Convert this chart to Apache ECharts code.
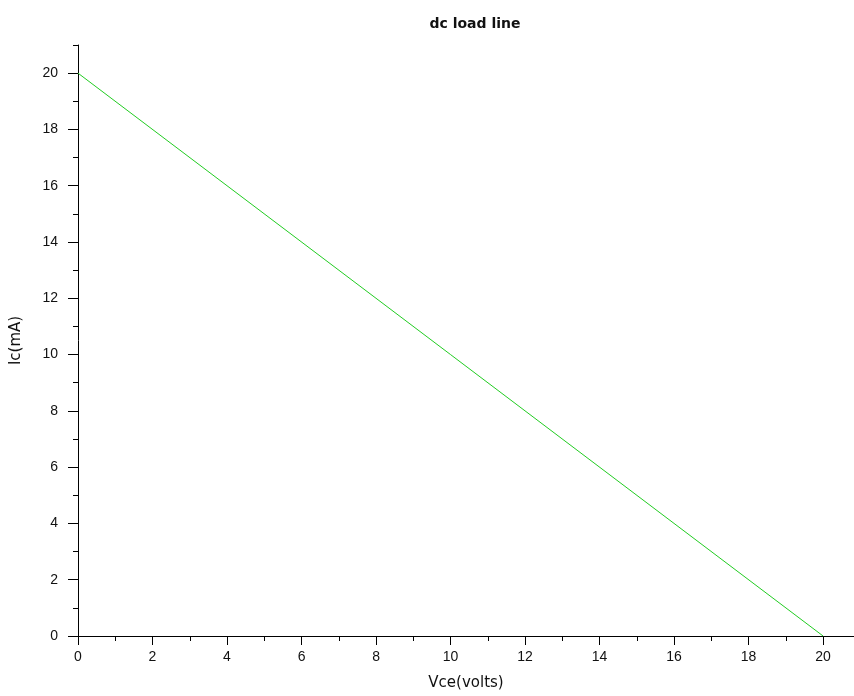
<!DOCTYPE html>
<html>
<head>
<meta charset="utf-8">
<script src="https://cdn.jsdelivr.net/npm/echarts@6/dist/echarts.min.js"></script>
<style>html,body{margin:0;padding:0;background:#fff;}#c{width:854px;height:696px;}</style>
</head>
<body>
<div id="c"></div>
<script>
var vce = [0, 20];
var ic = [20, 0];
var xMajor = [0, 2, 4, 6, 8, 10, 12, 14, 16, 18, 20];
var xMinor = [1, 3, 5, 7, 9, 11, 13, 15, 17, 19];
var yMajor = [0, 2, 4, 6, 8, 10, 12, 14, 16, 18, 20];
var yMinor = [1, 3, 5, 7, 9, 11, 13, 15, 17, 19, 21];
var xMax = 20.83;
var yMax = 21;

var chart = echarts.init(document.getElementById('c'));
var font = 'Liberation Sans, Arial, sans-serif';
var nameFont = 'DejaVu Sans, sans-serif';
function labelAxis(vals, pos, isX, max) {
  return {
    type: 'value', min: 0, max: max, position: pos,
    axisLine: {show: true, onZero: false, lineStyle: {color: '#000', width: 1}},
    axisTick: {show: false},
    axisLabel: {show: true, customValues: vals, color: '#111', fontSize: 14, fontFamily: font, margin: isX ? 14 : 20},
    splitLine: {show: false}
  };
}
function tickAxis(vals, pos, max, len) {
  return {
    type: 'value', min: 0, max: max, position: pos,
    axisLine: {show: false, onZero: false},
    axisTick: {show: true, inside: false, length: len, customValues: vals, lineStyle: {color: '#000', width: 1}},
    axisLabel: {show: false},
    splitLine: {show: false}
  };
}
var xa = labelAxis(xMajor, 'bottom', true, xMax);
xa.name = 'Vce(volts)'; xa.nameLocation = 'middle'; xa.nameGap = 40;
xa.nameTextStyle = {color: '#111', fontSize: 15, fontFamily: nameFont};
var ya = labelAxis(yMajor, 'left', false, yMax);
ya.name = 'Ic(mA)'; ya.nameLocation = 'middle'; ya.nameGap = 54;
ya.nameTextStyle = {color: '#111', fontSize: 15, fontFamily: nameFont};

chart.setOption({
  backgroundColor: '#fff',
  animation: false,
  title: {
    text: 'dc load line', left: 470, top: 12, textAlign: 'center',
    textStyle: {color: '#111', fontSize: 14, fontWeight: 'bold', fontFamily: 'DejaVu Sans, sans-serif'}
  },
  grid: {left: 78, right: 0, top: 45, bottom: 59, containLabel: false},
  xAxis: [xa, tickAxis(xMajor, 'bottom', xMax, 9), tickAxis(xMinor, 'bottom', xMax, 5)],
  yAxis: [ya, tickAxis(yMajor, 'left', yMax, 10), tickAxis(yMinor, 'left', yMax, 5)],
  series: [{
    type: 'line', xAxisIndex: 0, yAxisIndex: 0,
    data: vce.map(function (v, i) { return [v, ic[i]]; }),
    showSymbol: false, symbol: 'none',
    lineStyle: {color: '#22cc22', width: 1},
    clip: false
  }]
});
</script>
</body>
</html>
